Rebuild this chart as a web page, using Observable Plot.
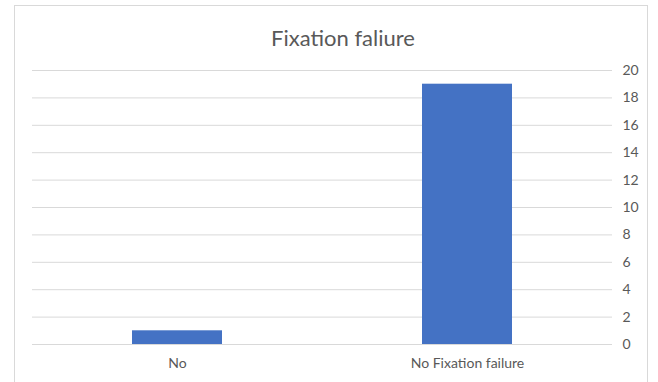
<!DOCTYPE html>
<html>
<head>
<meta charset="utf-8">
<script src="https://cdn.jsdelivr.net/npm/d3@7"></script>
<script src="https://cdn.jsdelivr.net/npm/@observablehq/plot@0.6"></script>
<style>
  html, body { margin: 0; padding: 0; background: #fff; }
  #wrap { position: relative; width: 658px; height: 382px; overflow: hidden; }
  #frame { position: absolute; left: 14px; top: 5px; width: 634px; height: 400px; border: 1px solid #d9d9d9; box-sizing: border-box; }
  #title { position: absolute; left: 0; width: 686px; top: 24px; text-align: center; font-family: Lato, sans-serif; font-size: 22px; color: #595959; }
  #chart { position: absolute; left: 0; top: 0; }
</style>
</head>
<body>
<div id="wrap">
  <div id="frame"></div>
  <div id="title">Fixation faliure</div>
  <div id="chart"></div>
</div>
<script>
// Category labels and counts
const categories = ["No", "No Fixation failure"];
const counts = [1, 19];
const yTicks = [0, 2, 4, 6, 8, 10, 12, 14, 16, 18, 20];

const data = categories.map((c, i) => ({category: c, count: counts[i]}));

const chart = Plot.plot({
  width: 658,
  height: 382,
  marginLeft: 32,
  marginRight: 46,
  marginTop: 70,
  marginBottom: 38,
  style: {fontFamily: "Lato, sans-serif", fontSize: "14px", color: "#595959", background: "transparent"},
  x: {domain: categories, paddingInner: 0.69, paddingOuter: 0.345, label: null},
  y: {domain: [0, 20], label: null},
  marks: [
    Plot.gridY(yTicks, {stroke: "#d9d9d9", strokeOpacity: 1, strokeWidth: 1}),
    Plot.barY(data, {x: "category", y: "count", fill: "#4472C4"}),
    Plot.axisY(yTicks, {anchor: "right", tickSize: 0, tickPadding: 10, label: null, fontSize: 14}),
    Plot.axisX({tickSize: 0, tickPadding: 14, label: null, fontSize: 14})
  ]
});
document.getElementById("chart").appendChild(chart);
</script>
</body>
</html>
